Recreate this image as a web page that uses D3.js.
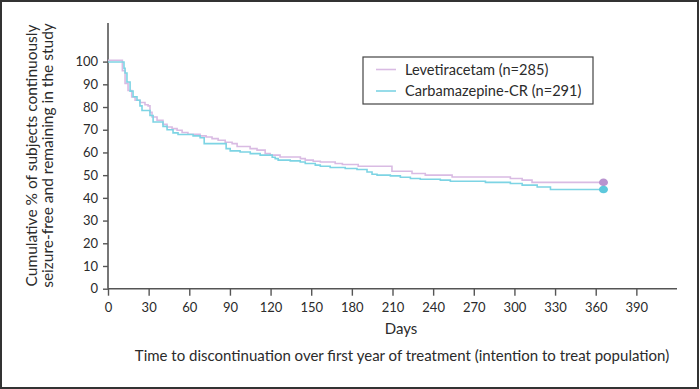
<!DOCTYPE html>
<html>
<head>
<meta charset="utf-8">
<script src="https://cdn.jsdelivr.net/npm/d3@7"></script>
<style>
  html, body { margin: 0; padding: 0; background: #fff; }
  svg { display: block; }
  text { font-family: Lato, "Open Sans", sans-serif; fill: #2b2b2b; }
</style>
</head>
<body>
<div id="chart"></div>
<script>
// ---- Data ----
const seriesNames = ["Levetiracetam (n=285)", "Carbamazepine-CR (n=291)"];

const levDays   = [0, 10.6, 12.6, 14.8, 17.5, 20, 23.6, 27.3, 29.6, 31, 32.5, 36.2, 40.6, 43.6, 47.3, 51, 54.7, 59, 68, 72.4, 76.8, 81.3, 86.5, 91.6, 95.3, 104.9, 110, 116, 119.7, 127, 142, 145.6, 151.5, 156.7, 167.7, 173, 184.7, 209.6, 224.4, 234.2, 254, 297, 305.7, 313, 365];
const levValues = [100.6, 96, 90.4, 87.3, 84.4, 83, 82, 81, 80.5, 77.7, 75.6, 74.2, 72.4, 71.2, 70.5, 69.8, 68.8, 68, 67.3, 66.8, 66.1, 65.4, 64.5, 63.9, 62.6, 61.7, 61, 59.5, 58.8, 58, 57.3, 56.6, 56.1, 55.8, 55.1, 54.7, 53.9, 51.7, 50.7, 50, 49.2, 48.5, 47.8, 46.8, 46.8];

const cbzDays   = [0, 11.8, 12.6, 14, 16.3, 18.5, 21.4, 23.6, 25.1, 31, 33.3, 40.6, 43.6, 48, 51.7, 62.8, 68, 71, 87.2, 90.2, 97.5, 105, 112.3, 121.2, 123.4, 125.6, 134.5, 141.9, 145.6, 153, 156.7, 164, 175.1, 183.8, 191.2, 194.9, 198.6, 208.4, 215.8, 223.2, 230.5, 245.3, 252.7, 278.6, 297, 305.7, 316.8, 326.6, 365];
const cbzValues = [99.8, 97, 95, 91, 87, 84.5, 83, 80.5, 78.5, 76.3, 73.4, 71.5, 70, 68.6, 67.9, 67.3, 66.5, 63.9, 61.7, 60.7, 60.2, 59.5, 58.8, 57.9, 57.3, 56.6, 56.3, 55.8, 55.1, 54.4, 53.9, 53.4, 52.9, 52.5, 51.4, 50.4, 50, 49.7, 49.1, 48.5, 48.2, 47.8, 47.3, 46.8, 46.3, 45.6, 44.8, 43.7, 43.7];

const xTicks = [0, 30, 60, 90, 120, 150, 180, 210, 240, 270, 300, 330, 360, 390];
const yTicks = [0, 10, 20, 30, 40, 50, 60, 70, 80, 90, 100];

const xLabel = "Days";
const footLabel = "Time to discontinuation over first year of treatment (intention to treat population)";
const yLabel1 = "Cumulative % of subjects continuously";
const yLabel2 = "seizure-free and remaining in the study";

const lineColors = ["#d9bbe3", "#7dd4e4"];
const markerColors = ["#b993cf", "#5dc8dc"];

// ---- Drawing ----
const W = 700, H = 389;
const svg = d3.select("#chart").append("svg").attr("width", W).attr("height", H);

// outer frame
svg.append("rect").attr("x", 1).attr("y", 1).attr("width", W - 3).attr("height", H - 2)
  .attr("fill", "none").attr("stroke", "#333").attr("stroke-width", 2);

const x = d3.scaleLinear().domain([0, 420]).range([108, 677]);
const y = d3.scaleLinear().domain([0, 117]).range([288.7, 23]);

const axisColor = "#555";

// x axis
const gx = svg.append("g").attr("transform", `translate(0,${y(0)})`)
  .call(d3.axisBottom(x).tickValues(xTicks).tickSize(7).tickPadding(7).tickSizeOuter(0));
gx.select(".domain").remove();
gx.append("line").attr("x1", x(0)).attr("x2", x(420)).attr("stroke", axisColor).attr("stroke-width", 1.6);
gx.selectAll(".tick line").attr("stroke", axisColor).attr("stroke-width", 1.4);
gx.selectAll(".tick text").style("font-size", "13px").attr("fill", "#2b2b2b").style("font-family", "Lato, sans-serif");

// y axis
const gy = svg.append("g").attr("transform", `translate(${x(0)},0)`)
  .call(d3.axisLeft(y).tickValues(yTicks).tickSize(5).tickPadding(5).tickSizeOuter(0));
gy.select(".domain").remove();
gy.append("line").attr("y1", y(0)).attr("y2", y(117)).attr("stroke", axisColor).attr("stroke-width", 1.6);
gy.selectAll(".tick line").attr("stroke", axisColor).attr("stroke-width", 1.4);
gy.selectAll(".tick text").style("font-size", "13px").attr("fill", "#2b2b2b").style("font-family", "Lato, sans-serif");

// curves
const series = [
  { days: levDays, vals: levValues },
  { days: cbzDays, vals: cbzValues }
];
const line = d3.line().x(d => x(d[0])).y(d => y(d[1])).curve(d3.curveStepAfter);
series.forEach((s, i) => {
  const pts = s.days.map((d, k) => [d, s.vals[k]]);
  svg.append("path").datum(pts).attr("d", line)
    .attr("fill", "none").attr("stroke", lineColors[i]).attr("stroke-width", 1.6);
});
series.forEach((s, i) => {
  const n = s.days.length - 1;
  svg.append("ellipse").attr("cx", x(s.days[n]) + 1).attr("cy", y(s.vals[n]))
    .attr("rx", 4.5).attr("ry", 3.8).attr("fill", markerColors[i]);
});

// legend
const lg = svg.append("g");
lg.append("rect").attr("x", 363).attr("y", 57).attr("width", 230).attr("height", 47)
  .attr("fill", "#fff").attr("stroke", "#444").attr("stroke-width", 1.2);
seriesNames.forEach((name, i) => {
  const ly = 69.5 + i * 21.5;
  lg.append("line").attr("x1", 376).attr("x2", 396).attr("y1", ly).attr("y2", ly)
    .attr("stroke", lineColors[i]).attr("stroke-width", 1.6);
  lg.append("text").attr("x", 405).attr("y", ly + 5.2).style("font-size", "14.6px").text(name);
});

// labels
svg.append("text").attr("x", 401).attr("y", 334).attr("text-anchor", "middle")
  .style("font-size", "15px").text(xLabel);
svg.append("text").attr("x", 402).attr("y", 361).attr("text-anchor", "middle")
  .style("font-size", "15px").text(footLabel);
svg.append("text").attr("transform", "translate(37,155.5) rotate(-90)").attr("text-anchor", "middle")
  .style("font-size", "15.5px").text(yLabel1);
svg.append("text").attr("transform", "translate(53,155.5) rotate(-90)").attr("text-anchor", "middle")
  .style("font-size", "15.5px").text(yLabel2);
</script>
</body>
</html>
